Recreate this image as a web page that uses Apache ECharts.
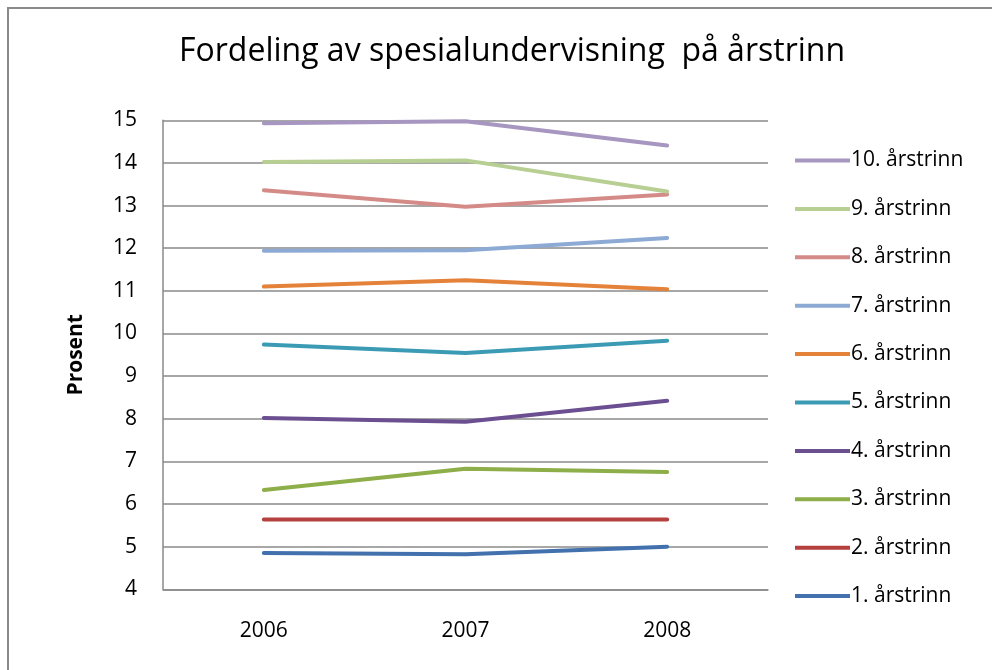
<!DOCTYPE html>
<html>
<head>
<meta charset="utf-8">
<script src="https://cdn.jsdelivr.net/npm/echarts@6/dist/echarts.min.js"></script>
<style>
  html, body { margin: 0; padding: 0; background: #fff; }
  #main { width: 992px; height: 670px; }
</style>
</head>
<body>
<div id="main"></div>
<script>
var years = ['2006', '2007', '2008'];
var names = ['1. årstrinn', '2. årstrinn', '3. årstrinn', '4. årstrinn', '5. årstrinn',
             '6. årstrinn', '7. årstrinn', '8. årstrinn', '9. årstrinn', '10. årstrinn'];
var trinn1 = [4.85, 4.82, 5.00];
var trinn2 = [5.64, 5.64, 5.64];
var trinn3 = [6.33, 6.83, 6.75];
var trinn4 = [8.02, 7.93, 8.42];
var trinn5 = [9.74, 9.54, 9.83];
var trinn6 = [11.10, 11.25, 11.04];
var trinn7 = [11.94, 11.95, 12.24];
var trinn8 = [13.36, 12.97, 13.26];
var trinn9 = [14.02, 14.06, 13.33];
var trinn10 = [14.93, 14.98, 14.41];
var colors = ['#4271ad', '#b4413e', '#8eae4a', '#6b4f90', '#3c9bb4',
              '#e5823a', '#8daad4', '#d48b88', '#b8cf94', '#a696c0'];

var allData = [trinn1, trinn2, trinn3, trinn4, trinn5, trinn6, trinn7, trinn8, trinn9, trinn10];
var font = 'Open Sans';

var chart = echarts.init(document.getElementById('main'));
var series = allData.map(function (d, i) {
  return {
    name: names[i],
    type: 'line',
    data: d,
    symbol: 'none',
    lineStyle: { width: 4, color: colors[i], cap: 'round', join: 'round' },
    itemStyle: { color: colors[i] }
  };
});

chart.setOption({
  animation: false,
  textStyle: { fontFamily: font },
  graphic: [{
    type: 'rect',
    shape: { x: 8, y: 8, width: 1000, height: 700 },
    style: { fill: 'none', stroke: '#8a8a8a', lineWidth: 2 }
  }],
  title: {
    text: 'Fordeling av spesialundervisning  på årstrinn',
    left: 174,
    top: 31,
    textStyle: { fontFamily: font, fontWeight: 'normal', fontSize: 32, color: '#000' }
  },
  legend: {
    orient: 'vertical',
    left: 790,
    top: 145,
    data: names.slice().reverse(),
    itemWidth: 55,
    itemHeight: 14,
    itemGap: 27.4,
    icon: 'path://M0,0 L55,0 L55,4 L0,4 Z',
    textStyle: { fontFamily: font, fontSize: 21, color: '#000', padding: [0, 0, 0, -4] }
  },
  grid: { left: 163, right: 224, top: 120.3, bottom: 80.7 },
  xAxis: {
    type: 'category',
    data: years,
    boundaryGap: true,
    axisLine: { lineStyle: { color: '#8a8a8a', width: 1.5 } },
    axisTick: { show: false },
    axisLabel: { fontFamily: font, fontSize: 21, color: '#000', margin: 31 }
  },
  yAxis: {
    type: 'value',
    min: 4,
    max: 15,
    interval: 1,
    name: 'Prosent',
    nameLocation: 'middle',
    nameRotate: 90,
    nameGap: 76,
    nameTextStyle: { fontFamily: font, fontWeight: 'bold', fontSize: 21, color: '#000' },
    axisLine: { show: true, lineStyle: { color: '#8a8a8a', width: 1.5 } },
    axisTick: { show: false },
    splitLine: { lineStyle: { color: '#8a8a8a', width: 1.5 } },
    axisLabel: { fontFamily: font, fontSize: 21, color: '#000', margin: 26 }
  },
  series: series
});
</script>
</body>
</html>
